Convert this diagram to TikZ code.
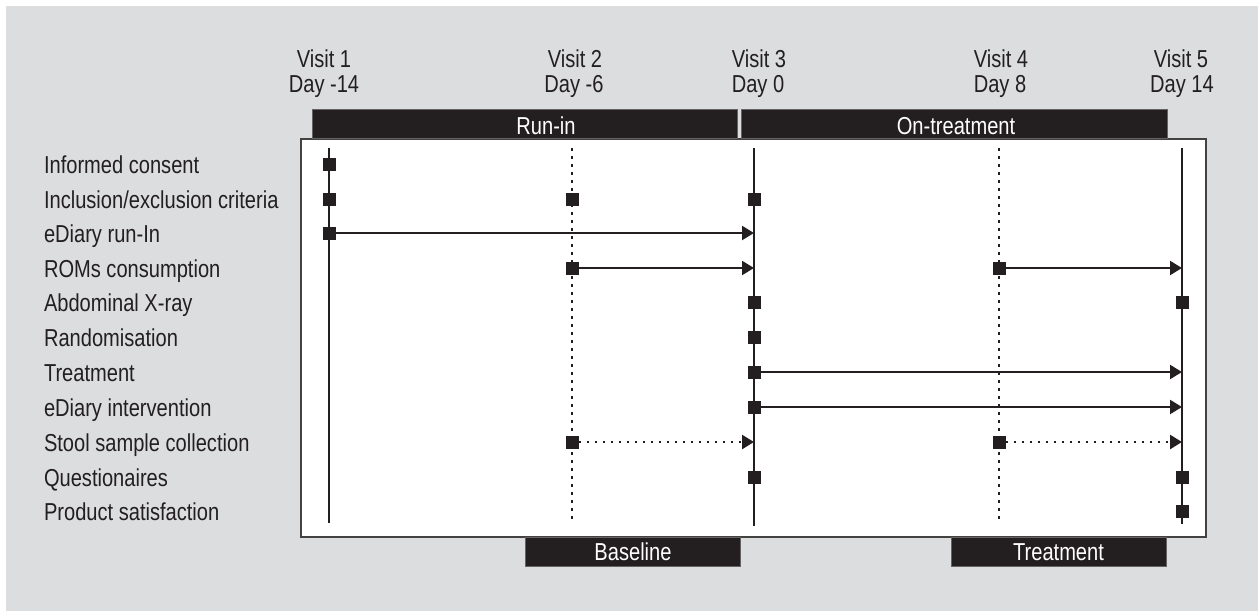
\documentclass[tikz,border=0pt]{standalone}
\usepackage{fontspec}
\setmainfont{Liberation Sans}[FakeStretch=0.82]
\usetikzlibrary{arrows.meta}
\definecolor{bg}{RGB}{220,221,223}
\definecolor{ink}{RGB}{35,31,32}
\begin{document}
\begin{tikzpicture}[x=1pt,y=-1pt,
  every node/.style={font=\fontsize{24.5}{28}\selectfont, inner sep=0pt, outer sep=0pt},
  marker/.style={rectangle, fill=ink, minimum size=13pt, inner sep=0pt},
  vline/.style={draw=ink, line width=2.2pt},
  dline/.style={draw=ink, line width=2.5pt, dash pattern=on 2.5pt off 5.5pt},
  arr/.style={draw=ink, line width=2.2pt, -{Triangle[length=12pt,width=14pt]}},
  darr/.style={draw=ink, line width=2.5pt, dash pattern=on 2.5pt off 5.5pt, -{Triangle[length=12pt,width=14pt]}},
  bar/.style={rectangle, fill=ink, draw=ink!70, line width=0.6pt},
  bartext/.style={anchor=base, text=white},
  head/.style={anchor=base, text=ink},
  rowlabel/.style={anchor=base west, text=ink},
]
\useasboundingbox (0,0) rectangle (1258,611);
\fill[bg] (6,6) rectangle (1258,611);
\draw[fill=white, draw=ink!85, line width=1.2pt] (301,139) rectangle (1206,537);

% phase bars
\node[bar, minimum width=425pt, minimum height=29pt] (runbar) at (524.5,124) {};
\node[bartext] (runtxt) at (546,134.5) {Run-in};
\node[bar, minimum width=426pt, minimum height=29pt] (onbar) at (954,124) {};
\node[bartext] (ontxt) at (956,134.5) {On-treatment};
\node[bar, minimum width=215pt, minimum height=29pt] (basebar) at (632.5,552) {};
\node[bartext] (basetxt) at (633,560) {Baseline};
\node[bar, minimum width=215pt, minimum height=29pt] (trbar) at (1058.5,552) {};
\node[bartext] (trtxt) at (1058.5,560) {Treatment};

% visit headers
\node[head] (h1a) at (324,67) {Visit 1};
\node[head] (h1b) at (324,92) {Day -14};
\node[head] (h2a) at (575,67) {Visit 2};
\node[head] (h2b) at (574,92) {Day -6};
\node[head] (h3a) at (759,67) {Visit 3};
\node[head] (h3b) at (758,92) {Day 0};
\node[head] (h4a) at (1001,67) {Visit 4};
\node[head] (h4b) at (1000,92) {Day 8};
\node[head] (h5a) at (1181,67) {Visit 5};
\node[head] (h5b) at (1182,92) {Day 14};

% visit lines
\coordinate (t1) at (329,148); \coordinate (b1) at (329,523);
\coordinate (t2) at (572,148); \coordinate (b2) at (572,521);
\coordinate (t3) at (754,148); \coordinate (b3) at (754,526);
\coordinate (t4) at (999,148); \coordinate (b4) at (999,521);
\coordinate (t5) at (1182,148); \coordinate (b5) at (1182,524);
\draw[vline] (t1) -- (b1);
\draw[dline] (t2) -- (b2);
\draw[vline] (t3) -- (b3);
\draw[dline] (t4) -- (b4);
\draw[vline] (t5) -- (b5);

% row labels
\node[rowlabel] (l1) at (44,173) {Informed consent};
\node[rowlabel] (l2) at (44,208) {Inclusion/exclusion criteria};
\node[rowlabel] (l3) at (44,242) {eDiary run-In};
\node[rowlabel] (l4) at (44,277) {ROMs consumption};
\node[rowlabel] (l5) at (44,311) {Abdominal X-ray};
\node[rowlabel] (l6) at (44,346) {Randomisation};
\node[rowlabel] (l7) at (44,381) {Treatment};
\node[rowlabel] (l8) at (44,416) {eDiary intervention};
\node[rowlabel] (l9) at (44,451) {Stool sample collection};
\node[rowlabel] (l10) at (44,486) {Questionaires};
\node[rowlabel] (l11) at (44,520) {Product satisfaction};

% arrow end points
\coordinate (e3) at (754,233);
\coordinate (e4a) at (754,268);
\coordinate (e4b) at (1182,268);
\coordinate (e7) at (1182,372);
\coordinate (e8) at (1182,407);
\coordinate (e9a) at (754,442);
\coordinate (e9b) at (1182,442);

% markers
\node[marker] (m1v1) at (329,164) {};
\node[marker] (m2v1) at (329,199) {};
\node[marker] (m2v2) at (572,199) {};
\node[marker] (m2v3) at (754,199) {};
\node[marker] (m3v1) at (329,233) {};
\node[marker] (m4v2) at (572,268) {};
\node[marker] (m4v4) at (999,268) {};
\node[marker] (m5v3) at (754,302) {};
\node[marker] (m5v5) at (1182,302) {};
\node[marker] (m6v3) at (754,337) {};
\node[marker] (m7v3) at (754,372) {};
\node[marker] (m8v3) at (754,407) {};
\node[marker] (m9v2) at (572,442) {};
\node[marker] (m9v4) at (999,442) {};
\node[marker] (m10v3) at (754,477) {};
\node[marker] (m10v5) at (1182,477) {};
\node[marker] (m11v5) at (1182,511) {};

% arrows
\draw[arr] (m3v1.east) -- (e3);
\draw[arr] (m4v2.east) -- (e4a);
\draw[arr] (m4v4.east) -- (e4b);
\draw[arr] (m7v3.east) -- (e7);
\draw[arr] (m8v3.east) -- (e8);
\draw[darr] (m9v2.east) -- (e9a);
\draw[darr] (m9v4.east) -- (e9b);
\end{tikzpicture}
\end{document}
